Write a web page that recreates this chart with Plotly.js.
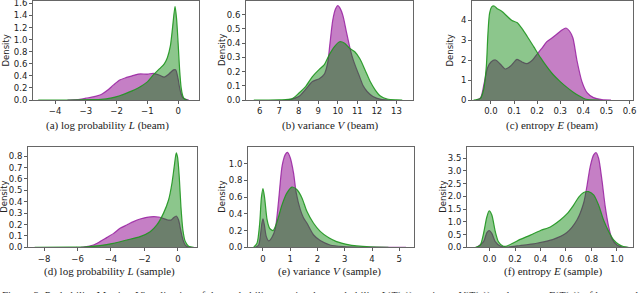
<!DOCTYPE html>
<html>
<head>
<meta charset="utf-8">
<script src="https://cdn.plot.ly/plotly-3.0.1.min.js"></script>
<style>
html,body{margin:0;padding:0;overflow:hidden;background:#fff;}
#chart{width:640px;height:293px;}
</style>
</head>
<body>
<div id="chart"></div>
<script>
// ---------------- DATA ----------------
// (a) log probability L (beam)
const aMagX = [-3.6,-3.2,-3.0,-2.7,-2.5,-2.3,-2.1,-1.9,-1.7,-1.5,-1.3,-1.0,-0.8,-0.6,-0.45,-0.3,-0.15,-0.08,0.0,0.05,0.1,0.15,0.25,0.35];
const aMagY = [0,0.01,0.03,0.06,0.09,0.16,0.25,0.33,0.37,0.40,0.43,0.43,0.44,0.41,0.38,0.43,0.50,0.50,0.35,0.20,0.10,0.04,0.01,0];
const aGrnX = [-4.55,-3.5,-2.8,-2.5,-2.2,-1.9,-1.6,-1.3,-1.0,-0.8,-0.6,-0.45,-0.35,-0.25,-0.18,-0.1,-0.05,0.0,0.05,0.1,0.15,0.2,0.3];
const aGrnY = [0,0,0.005,0.01,0.03,0.07,0.13,0.2,0.3,0.42,0.52,0.6,0.7,0.9,1.2,1.55,1.35,0.95,0.5,0.2,0.07,0.02,0];
// (b) variance V (beam)
const bMagX = [7.3,7.6,8.0,8.35,8.7,9.05,9.3,9.48,9.6,9.74,9.88,10.0,10.14,10.27,10.44,10.6,10.75,10.9,11.1,11.3,11.5,11.8,12.2,12.6];
const bMagY = [0,0.005,0.024,0.075,0.13,0.15,0.18,0.26,0.40,0.56,0.64,0.664,0.64,0.59,0.48,0.38,0.3,0.24,0.17,0.1,0.06,0.025,0.005,0];
const bGrnX = [5.7,7.0,7.65,8.0,8.35,8.7,9.05,9.3,9.57,9.83,10.09,10.35,10.6,10.87,11.13,11.4,11.66,11.92,12.18,12.53,13.0,13.3];
const bGrnY = [0,0.001,0.008,0.047,0.094,0.165,0.216,0.247,0.32,0.376,0.41,0.40,0.365,0.34,0.29,0.21,0.13,0.07,0.028,0.007,0.001,0];
// (c) entropy E (beam)
const cMagX = [-0.065,-0.045,-0.03,-0.015,0.0,0.02,0.04,0.062,0.085,0.113,0.135,0.155,0.18,0.2,0.22,0.242,0.264,0.286,0.307,0.325,0.34,0.355,0.372,0.394,0.416,0.444,0.48,0.52];
const cMagY = [0,0.1,0.8,1.6,1.9,2.0,1.8,1.55,1.7,2.03,1.9,1.82,2.0,2.3,2.58,2.92,3.1,3.3,3.5,3.6,3.45,3.1,2.0,0.92,0.37,0.12,0.02,0];
const cGrnX = [-0.075,-0.046,-0.032,-0.02,-0.013,-0.006,0.004,0.014,0.026,0.048,0.069,0.091,0.113,0.134,0.156,0.185,0.214,0.242,0.271,0.3,0.329,0.358,0.387,0.408,0.44,0.47];
const cGrnY = [0,0.08,0.5,1.67,3.33,4.33,4.67,4.7,4.58,4.42,4.2,3.97,3.87,3.58,3.2,2.67,2.13,1.67,1.25,0.92,0.63,0.38,0.17,0.05,0.005,0];
// (d) log probability L (sample)
const dMagX = [-5.8,-5.56,-5.06,-4.66,-4.26,-3.86,-3.46,-3.06,-2.66,-2.26,-1.86,-1.46,-1.16,-0.9,-0.6,-0.4,-0.26,-0.1,0.04,0.14,0.24,0.34,0.44,0.6,0.8];
const dMagY = [0,0.003,0.02,0.05,0.085,0.12,0.167,0.196,0.225,0.248,0.263,0.269,0.266,0.255,0.24,0.24,0.26,0.275,0.24,0.17,0.1,0.05,0.02,0.004,0];
const dGrnX = [-8.56,-6.5,-5.46,-4.66,-3.86,-3.06,-2.26,-1.66,-1.26,-0.86,-0.56,-0.36,-0.22,-0.1,-0.02,0.08,0.18,0.3,0.44,0.64,0.94];
const dGrnY = [0,0.001,0.005,0.015,0.035,0.064,0.094,0.137,0.196,0.3,0.415,0.56,0.71,0.83,0.79,0.62,0.356,0.15,0.05,0.01,0];
// (e) variance V (sample)
const eMagX = [-0.28,-0.16,-0.1,-0.04,0,0.05,0.12,0.21,0.33,0.45,0.57,0.7,0.82,0.9,1.0,1.12,1.22,1.37,1.49,1.61,1.85,2.1,2.46,2.95,3.7,5.25];
const eMagY = [0,0.028,0.13,0.29,0.34,0.27,0.13,0.076,0.12,0.22,0.55,0.97,1.11,1.135,1.07,0.89,0.65,0.45,0.35,0.29,0.15,0.08,0.028,0.008,0.001,0];
const eGrnX = [-0.34,-0.22,-0.12,-0.06,0,0.06,0.15,0.24,0.37,0.51,0.7,0.88,1.06,1.24,1.43,1.61,1.85,2.1,2.4,2.7,3.07,3.44,3.93,4.6];
const eGrnY = [0,0.048,0.29,0.59,0.70,0.59,0.33,0.23,0.2,0.3,0.51,0.65,0.72,0.69,0.59,0.43,0.29,0.19,0.116,0.068,0.036,0.016,0.004,0];
// (f) entropy E (sample)
const fMagX = [-0.1,-0.047,-0.021,-0.003,0.018,0.045,0.084,0.136,0.24,0.37,0.5,0.607,0.686,0.738,0.764,0.79,0.817,0.835,0.856,0.882,0.908,0.935,0.96,1.0,1.04,1.08];
const fMagY = [0,0.22,0.58,0.66,0.55,0.22,0.05,0.01,0.07,0.16,0.31,0.58,1.07,1.73,2.39,3.17,3.63,3.72,3.5,2.65,1.6,0.81,0.35,0.09,0.01,0];
const fGrnX = [-0.11,-0.073,-0.047,-0.021,-0.003,0.018,0.045,0.07,0.105,0.136,0.19,0.24,0.32,0.4,0.48,0.555,0.607,0.66,0.7,0.738,0.777,0.817,0.856,0.895,0.935,0.974,1.013,1.05,1.09];
const fGrnY = [0,0.09,0.55,1.2,1.43,1.27,0.62,0.22,0.05,0.05,0.18,0.31,0.48,0.66,0.81,1.07,1.31,1.66,1.97,2.15,2.19,2.06,1.66,1.07,0.62,0.29,0.12,0.03,0];

const captions = [
  '(a) log probability <i>L</i> (beam)',
  '(b) variance <i>V</i> (beam)',
  '(c) entropy <i>E</i> (beam)',
  '(d) log probability <i>L</i> (sample)',
  '(e) variance <i>V</i> (sample)',
  '(f) entropy <i>E</i> (sample)'
];
const yTitle = 'Density';
const figCaption = 'Figure 3: Probability Metrics. Visualization of the probability metrics, log probability <i>L</i>(<i>T</i>(<i>x</i>)), variance <i>V</i>(<i>T</i>(<i>x</i>)) and entropy <i>E</i>(<i>T</i>(<i>x</i>)) of beam and sample outputs.';

// ---------------- LAYOUT / STYLE ----------------
const W = 640, H = 293;
const panels = [
  {mx:aMagX,my:aMagY,gx:aGrnX,gy:aGrnY, px:[33,199], py:[1,100], xr:[-4.72,0.68], yr:[0,1.64], xdt:1, xf:'', ydt:0.2, yf:'.1f', dx:5, cx:107, cy:125},
  {mx:bMagX,my:bMagY,gx:bGrnX,gy:bGrnY, px:[246,413], py:[1,100], xr:[5.3,13.85], yr:[0,0.697], xdt:1, xf:'', ydt:0.1, yf:'.1f', dx:221.5, cx:330, cy:125},
  {mx:cMagX,my:cMagY,gx:cGrnX,gy:cGrnY, px:[472,633], py:[1,100], xr:[-0.082,0.615], yr:[0,4.95], xdt:0.1, xf:'.1f', ydt:1, yf:'', dx:449, cx:552, cy:125},
  {mx:dMagX,my:dMagY,gx:dGrnX,gy:dGrnY, px:[28,197], py:[147.3,247.3], xr:[-8.96,1.14], yr:[0,0.878], xdt:2, xf:'', ydt:0.1, yf:'.1f', dx:4.5, cx:109, cy:271.5},
  {mx:eMagX,my:eMagY,gx:eGrnX,gy:eGrnY, px:[248,414], py:[147.3,247.3], xr:[-0.55,5.54], yr:[0,1.195], xdt:1, xf:'', ydt:0.2, yf:'.1f', dx:222.5, cx:329, cy:271.5},
  {mx:fMagX,my:fMagY,gx:fGrnX,gy:fGrnY, px:[467,633], py:[147.3,247.3], xr:[-0.177,1.126], yr:[0,3.93], xdt:0.2, xf:'.1f', ydt:0.5, yf:'.1f', dx:443.5, cx:553, cy:271.5}
];

const magFill = 'rgba(139,0,139,0.5)';
const magLine = 'rgba(150,30,160,0.85)';
const grnFill = 'rgba(0,128,0,0.45)';
const grnLine = 'rgba(30,150,30,0.9)';

const traces = [];
const layout = {
  width: W, height: H,
  margin: {l:0, r:0, t:0, b:0},
  paper_bgcolor: '#fff', plot_bgcolor: '#fff',
  showlegend: false,
  font: {family: 'DejaVu Sans', size: 8.5, color: '#222'},
  annotations: []
};

panels.forEach((p, i) => {
  const n = i + 1;
  const xa = 'x' + (n === 1 ? '' : n), ya = 'y' + (n === 1 ? '' : n);
  const common = {type:'scatter', mode:'lines', fill:'tozeroy', xaxis:xa, yaxis:ya, hoverinfo:'skip'};
  traces.push(Object.assign({}, common, {x:p.mx, y:p.my, fillcolor:magFill, line:{color:magLine, width:1.2, shape:'spline', smoothing:0.7}}));
  traces.push(Object.assign({}, common, {x:p.gx, y:p.gy, fillcolor:grnFill, line:{color:grnLine, width:1.2, shape:'spline', smoothing:0.7}}));
  const axBase = {showgrid:false, zeroline:false, showline:true, mirror:true, linecolor:'#666', linewidth:1,
                  ticks:'outside', ticklen:3, tickwidth:0.8, tickcolor:'#333', tick0:0,
                  ticklabeloverflow:'allow',
                  tickfont:{family:'DejaVu Sans', size:8.5, color:'#222'}, fixedrange:true};
  layout['xaxis' + (n === 1 ? '' : n)] = Object.assign({}, axBase, {
    domain:[p.px[0]/W, p.px[1]/W], range:p.xr, dtick:p.xdt, tickformat:p.xf,
    anchor: ya});
  layout['yaxis' + (n === 1 ? '' : n)] = Object.assign({}, axBase, {
    domain:[1 - p.py[1]/H, 1 - p.py[0]/H], range:p.yr, dtick:p.ydt, tickformat:p.yf,
    anchor: xa});
  layout.annotations.push({xref:'paper', yref:'paper', x:p.dx/W, y:1 - ((p.py[0]+p.py[1])/2)/H,
    text:yTitle, textangle:-90, showarrow:false, xanchor:'center', yanchor:'middle',
    font:{family:'DejaVu Sans', size:8.5, color:'#222'}});
  layout.annotations.push({xref:'paper', yref:'paper', x:p.cx/W, y:1 - p.cy/H,
    text:captions[i], showarrow:false, xanchor:'center', yanchor:'middle',
    font:{family:'Liberation Serif', size:11, color:'#222'}});
});

layout.annotations.push({xref:'paper', yref:'paper', x:0, y:1 - 286.5/H, xanchor:'left', yanchor:'top',
  text:figCaption, showarrow:false, font:{family:'Liberation Serif', size:11, color:'#333'}});

Plotly.newPlot('chart', traces, layout, {staticPlot:true, displayModeBar:false});
</script>
</body>
</html>
